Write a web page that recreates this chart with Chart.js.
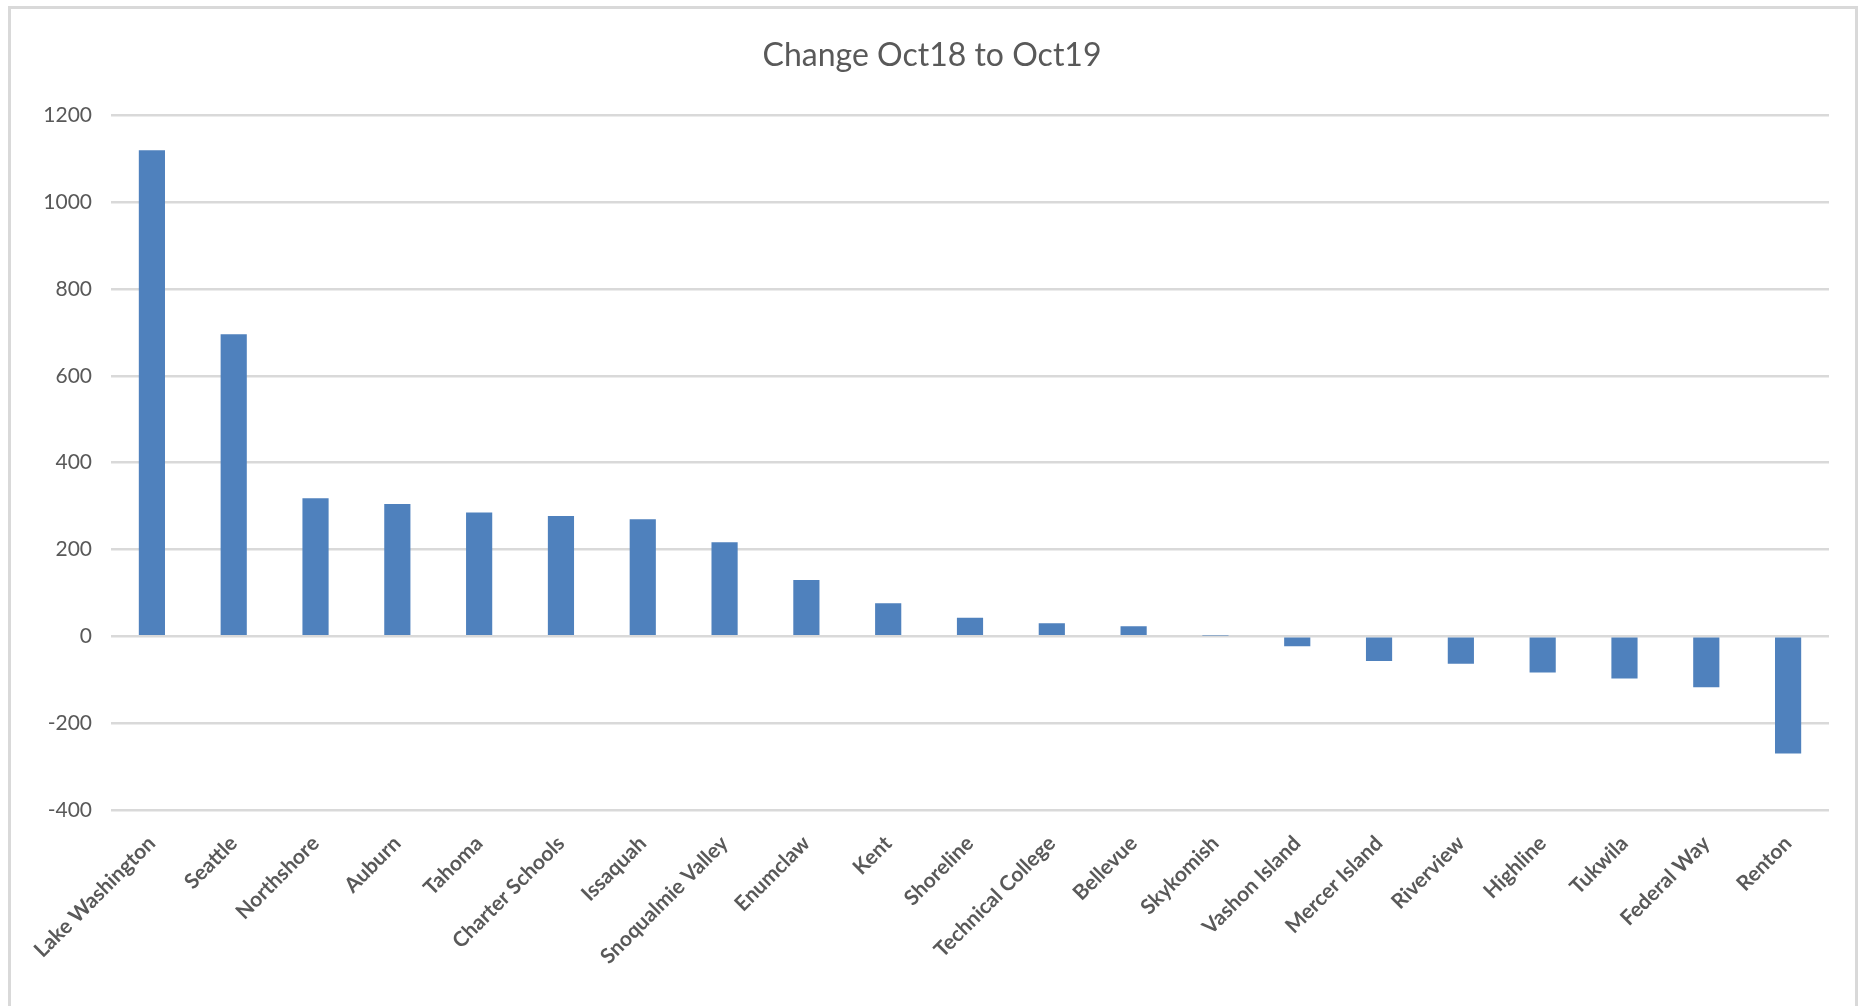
<!DOCTYPE html>
<html>
<head>
<meta charset="utf-8">
<title>Change Oct18 to Oct19</title>
<script src="https://cdn.jsdelivr.net/npm/chart.js@4.4.1/dist/chart.umd.min.js"></script>
<style>
    html, body { margin: 0; padding: 0; background: #ffffff; overflow: hidden; }
    #frame {
        position: absolute;
        left: 8px;
        top: 6px;
        width: 1850px;
        height: 1100px;
        border: 3px solid #d9d9d9;
        box-sizing: border-box;
    }
    #wrap { position: absolute; left: 0; top: 0; width: 1865px; height: 1006px; }
</style>
</head>
<body>
<div id="frame"></div>
<div id="wrap"><canvas id="changeChart" width="1865" height="1006"></canvas></div>
<script>
// District names and the change in enrolment, Oct18 -> Oct19
const districts = ['Lake Washington', 'Seattle', 'Northshore', 'Auburn', 'Tahoma', 'Charter Schools',
    'Issaquah', 'Snoqualmie Valley', 'Enumclaw', 'Kent', 'Shoreline', 'Technical College', 'Bellevue',
    'Skykomish', 'Vashon Island', 'Mercer Island', 'Riverview', 'Highline', 'Tukwila', 'Federal Way', 'Renton'];
const changes = [1120, 696, 318, 305, 285, 277, 270, 217, 130, 76, 43, 30, 23, 2,
    -23, -57, -63, -83, -97, -117, -270];
const yTicks = [-400, -200, 0, 200, 400, 600, 800, 1000, 1200];

document.addEventListener('DOMContentLoaded', function() {
    Chart.defaults.color = '#595959';
    Chart.defaults.font.family = "Lato, 'Open Sans', sans-serif";

    const ctx = document.getElementById('changeChart').getContext('2d');

    new Chart(ctx, {
        type: 'bar',
        data: {
            labels: districts,
            datasets: [{
                label: 'Change',
                data: changes,
                backgroundColor: '#4f81bd',
                borderWidth: 0,
                barPercentage: 0.32,
                categoryPercentage: 1.0
            }]
        },
        options: {
            responsive: false,
            animation: false,
            layout: {
                padding: { left: 35, right: 36, top: 0, bottom: 0 }
            },
            plugins: {
                legend: { display: false },
                tooltip: { enabled: false },
                title: {
                    display: true,
                    text: 'Change Oct18 to Oct19',
                    color: '#595959',
                    font: { size: 32, weight: 'normal' },
                    padding: { top: 36, bottom: 41 }
                }
            },
            scales: {
                y: {
                    min: yTicks[0],
                    max: yTicks[yTicks.length - 1],
                    afterBuildTicks: function(scale) {
                        scale.ticks = yTicks.map(v => ({ value: v }));
                    },
                    afterFit: function(scale) {
                        scale.width = 76;
                    },
                    grid: {
                        color: '#d9d9d9',
                        lineWidth: 2.5,
                        drawTicks: false
                    },
                    border: { display: false },
                    ticks: {
                        color: '#595959',
                        font: { size: 21 },
                        padding: 19,
                        // no thousands separator, like the original
                        callback: function(value) {
                            return String(value);
                        }
                    }
                },
                x: {
                    afterFit: function(scale) {
                        scale.height = 196;
                    },
                    grid: { display: false, drawTicks: false },
                    border: { display: false },
                    ticks: {
                        autoSkip: false,
                        minRotation: 45,
                        maxRotation: 45,
                        color: '#595959',
                        font: { size: 21, weight: 'bold' },
                        padding: 21
                    }
                }
            }
        }
    });
});
</script>
</body>
</html>
